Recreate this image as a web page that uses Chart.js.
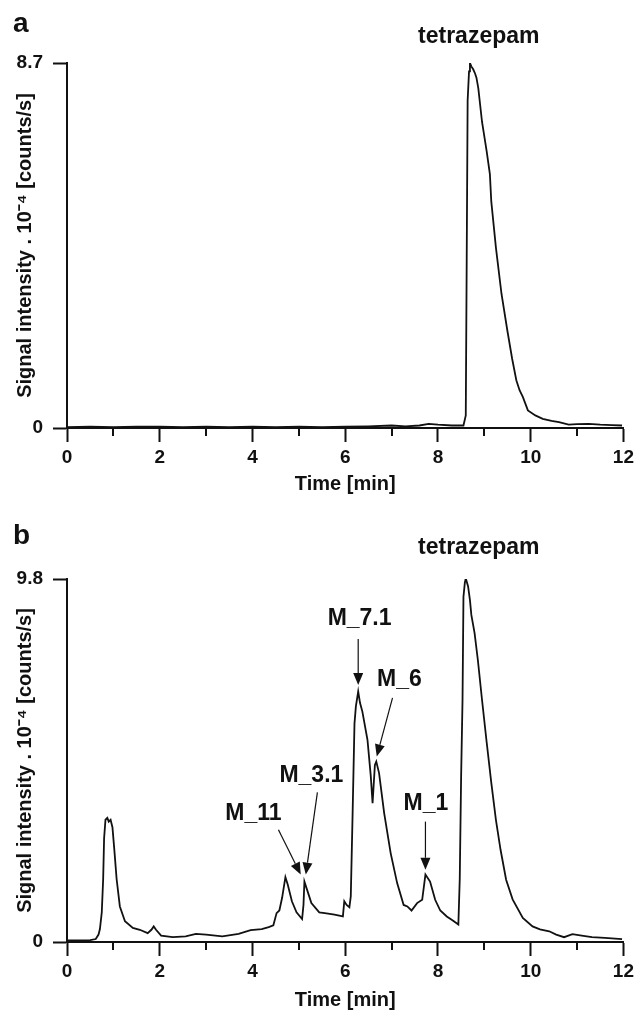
<!DOCTYPE html>
<html>
<head>
<meta charset="utf-8">
<script src="https://cdn.jsdelivr.net/npm/chart.js@4.4.1/dist/chart.umd.min.js"></script>
<style>
  html, body { margin: 0; padding: 0; background: #fff; }
  #wrap { position: relative; width: 638px; height: 1015px; }
  canvas { position: absolute; left: 0; }
  #chartA { top: 0; }
  #chartB { top: 500px; }
</style>
</head>
<body>
<div id="wrap">
  <canvas id="chartA" width="638" height="500"></canvas>
  <canvas id="chartB" width="638" height="515"></canvas>
</div>
<script>
// panel a: tetrazepam only
const timeA = [0, 0.5, 1, 1.5, 2, 2.5, 3, 3.5, 4, 4.5, 5, 5.5, 6, 6.5, 7, 7.3, 7.6, 7.8, 8.0, 8.3, 8.55, 8.6, 8.62, 8.64, 8.67, 8.69, 8.72, 8.76, 8.8, 8.83, 8.87, 8.9, 8.95, 9.0, 9.05, 9.12, 9.15, 9.25, 9.37, 9.5, 9.6, 9.69, 9.76, 9.83, 9.94, 10.1, 10.26, 10.45, 10.61, 10.82, 11.0, 11.25, 11.5, 11.75, 11.97];
const signalA = [0.02, 0.03, 0.02, 0.03, 0.03, 0.02, 0.03, 0.02, 0.03, 0.02, 0.03, 0.02, 0.03, 0.04, 0.06, 0.04, 0.06, 0.1, 0.08, 0.06, 0.06, 0.3, 4.0, 7.8, 8.5, 8.7, 8.62, 8.55, 8.45, 8.35, 8.1, 7.8, 7.3, 6.95, 6.6, 6.05, 5.4, 4.3, 3.2, 2.3, 1.65, 1.14, 0.9, 0.74, 0.42, 0.3, 0.22, 0.17, 0.14, 0.08, 0.09, 0.1, 0.08, 0.07, 0.06];

// panel b: tetrazepam + metabolites
const timeB = [0, 0.3, 0.5, 0.62, 0.68, 0.71, 0.75, 0.78, 0.8, 0.83, 0.87, 0.9, 0.94, 0.98, 1.02, 1.07, 1.14, 1.25, 1.42, 1.57, 1.74, 1.82, 1.87, 1.92, 2.03, 2.28, 2.56, 2.78, 3.0, 3.35, 3.7, 3.96, 4.2, 4.35, 4.45, 4.52, 4.58, 4.64, 4.71, 4.76, 4.85, 4.95, 5.07, 5.1, 5.12, 5.18, 5.27, 5.44, 5.56, 5.77, 5.95, 5.98, 6.03, 6.09, 6.12, 6.16, 6.2, 6.23, 6.28, 6.32, 6.37, 6.48, 6.55, 6.59, 6.64, 6.67, 6.73, 6.84, 6.98, 7.12, 7.26, 7.34, 7.43, 7.55, 7.66, 7.73, 7.83, 7.94, 8.05, 8.19, 8.32, 8.44, 8.47, 8.5, 8.53, 8.55, 8.58, 8.6, 8.65, 8.69, 8.72, 8.79, 8.86, 8.95, 9.05, 9.15, 9.25, 9.35, 9.47, 9.61, 9.83, 10.04, 10.2, 10.4, 10.55, 10.72, 10.9, 11.1, 11.32, 11.6, 11.97];
const signalB = [0.04, 0.04, 0.05, 0.08, 0.2, 0.35, 0.8, 1.7, 2.8, 3.3, 3.35, 3.25, 3.3, 3.1, 2.5, 1.7, 0.96, 0.56, 0.38, 0.33, 0.24, 0.33, 0.42, 0.33, 0.17, 0.13, 0.15, 0.22, 0.2, 0.15, 0.22, 0.32, 0.35, 0.4, 0.45, 0.78, 0.85, 1.2, 1.75, 1.55, 1.1, 0.8, 0.62, 1.0, 1.63, 1.4, 1.05, 0.8, 0.78, 0.74, 0.69, 1.1, 1.0, 0.94, 1.23, 3.5, 5.9, 6.36, 6.76, 6.45, 6.22, 5.46, 4.5, 3.75, 4.78, 4.87, 4.56, 3.48, 2.4, 1.59, 1.0, 0.96, 0.85, 1.05, 1.14, 1.82, 1.63, 1.14, 0.85, 0.69, 0.58, 0.47, 1.7, 4.5, 6.54, 9.32, 9.7, 9.82, 9.6, 9.23, 8.83, 8.34, 7.62, 6.54, 5.4, 4.3, 3.3, 2.49, 1.68, 1.15, 0.65, 0.42, 0.34, 0.29, 0.2, 0.13, 0.21, 0.17, 0.13, 0.11, 0.08];

// axes
const xMin = 0, xMax = 12;
const majorTicks = [0, 2, 4, 6, 8, 10, 12];
const minorTicks = [1, 3, 5, 7, 9, 11];
const yMaxA = 8.7, yMaxB = 9.8;

// peak labels in panel b (data coords)
const peakNames = ['M_7.1', 'M_6', 'M_3.1', 'M_11', 'M_1'];
const nameX = [6.31, 7.17, 5.27, 4.02, 7.74];
const nameY = [8.56, 6.90, 4.31, 3.30, 3.57];
const arrowX0 = [6.28, 7.02, 5.40, 4.56, 7.73];
const arrowY0 = [8.18, 6.59, 4.04, 3.03, 3.25];
const arrowX1 = [6.28, 6.68, 5.15, 5.04, 7.73];
const arrowY1 = [6.94, 5.01, 1.82, 1.82, 1.95];

const FONT = '"Liberation Sans", Arial, Helvetica, sans-serif';
const INK = '#111';

function drawArrow(ctx, x1, y1, x2, y2) {
  const ang = Math.atan2(y2 - y1, x2 - x1);
  const head = 12, half = 5;
  const bx = x2 - head * Math.cos(ang), by = y2 - head * Math.sin(ang);
  ctx.lineWidth = 1.2;
  ctx.beginPath();
  ctx.moveTo(x1, y1);
  ctx.lineTo(bx, by);
  ctx.stroke();
  ctx.beginPath();
  ctx.moveTo(x2, y2);
  ctx.lineTo(bx - half * Math.sin(ang), by + half * Math.cos(ang));
  ctx.lineTo(bx + half * Math.sin(ang), by - half * Math.cos(ang));
  ctx.closePath();
  ctx.fill();
}

const annotate = {
  id: 'annotate',
  afterDraw(chart, args, opts) {
    const { ctx, chartArea, scales: { x, y } } = chart;
    ctx.save();
    ctx.fillStyle = INK;
    ctx.strokeStyle = INK;

    // minor ticks on the time axis
    ctx.lineWidth = 2;
    minorTicks.forEach(v => {
      const px = Math.round(x.getPixelForValue(v));
      ctx.beginPath();
      ctx.moveTo(px, chartArea.bottom);
      ctx.lineTo(px, chartArea.bottom + 8);
      ctx.stroke();
    });

    // panel letter
    ctx.font = 'bold 28px ' + FONT;
    ctx.textAlign = 'left';
    ctx.textBaseline = 'alphabetic';
    ctx.fillText(opts.panel, 13, opts.panelY);

    // compound name
    ctx.font = 'bold 23px ' + FONT;
    ctx.textAlign = 'center';
    ctx.fillText('tetrazepam', x.getPixelForValue(opts.nameX), y.getPixelForValue(opts.nameY));

    if (opts.peaks) {
      peakNames.forEach((name, i) => {
        ctx.fillText(name, x.getPixelForValue(nameX[i]), y.getPixelForValue(nameY[i]));
        drawArrow(ctx,
          x.getPixelForValue(arrowX0[i]), y.getPixelForValue(arrowY0[i]),
          x.getPixelForValue(arrowX1[i]), y.getPixelForValue(arrowY1[i]));
      });
    }
    ctx.restore();
  }
};

function makeChart(id, times, signal, yMax, xHeight, titlePad, padTop, annot) {
  const points = times.map((t, i) => ({ x: t, y: signal[i] }));
  return new Chart(document.getElementById(id), {
    type: 'line',
    data: {
      datasets: [{
        data: points,
        borderColor: INK,
        borderWidth: 1.8,
        pointRadius: 0,
        tension: 0,
        fill: false
      }]
    },
    plugins: [annotate],
    options: {
      responsive: false,
      animation: false,
      events: [],
      layout: { padding: { left: 0, right: 10, top: padTop, bottom: 0 } },
      plugins: {
        legend: { display: false },
        tooltip: { enabled: false },
        annotate: annot
      },
      scales: {
        x: {
          type: 'linear',
          min: xMin,
          max: xMax,
          afterBuildTicks: s => { s.ticks = majorTicks.map(v => ({ value: v })); },
          afterFit: s => { s.height = xHeight; },
          ticks: {
            color: INK,
            font: { family: FONT, size: 19, weight: 'bold' },
            padding: 4,
            maxRotation: 0,
            autoSkip: false
          },
          grid: { drawOnChartArea: false, tickLength: 14, tickWidth: 2, tickColor: INK },
          border: { color: INK, width: 2 },
          title: {
            display: true,
            text: 'Time [min]',
            color: INK,
            font: { family: FONT, size: 20, weight: 'bold' },
            padding: { top: 0, bottom: titlePad }
          }
        },
        y: {
          min: 0,
          max: yMax,
          afterBuildTicks: s => { s.ticks = [{ value: 0 }, { value: yMax }]; },
          afterFit: s => { s.width = 67; },
          ticks: {
            color: INK,
            font: { family: FONT, size: 19, weight: 'bold' },
            padding: 10,
            callback: v => String(v)
          },
          grid: { drawOnChartArea: false, tickLength: 14, tickWidth: 2, tickColor: INK },
          border: { color: INK, width: 2 },
          title: {
            display: true,
            text: 'Signal intensity . 10\u207B\u2074 [counts/s]',
            color: INK,
            font: { family: FONT, size: 20, weight: 'bold' },
            padding: { top: 13, bottom: 0 }
          }
        }
      }
    }
  });
}

makeChart('chartA', timeA, signalA, yMaxA, 72, 4, 63,
  { panel: 'a', panelY: 32, nameX: 8.88, nameY: 9.17, peaks: false });
makeChart('chartB', timeB, signalB, yMaxB, 73, 3, 79,
  { panel: 'b', panelY: 44, nameX: 8.88, nameY: 10.47, peaks: true });
</script>
</body>
</html>
